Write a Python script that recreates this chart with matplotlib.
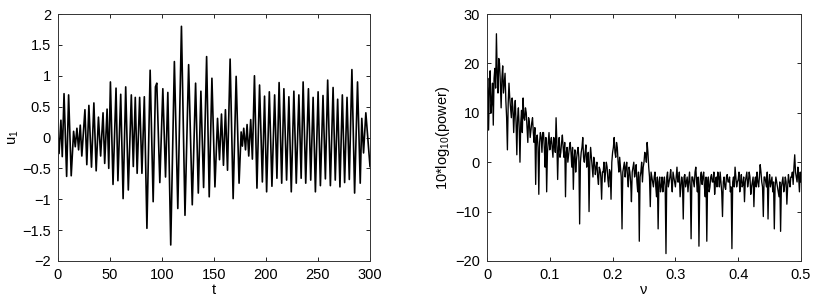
import numpy as np
import matplotlib
matplotlib.use("Agg")
import matplotlib.pyplot as plt

plt.rcParams['font.family'] = ['Liberation Sans', 'DejaVu Sans']
plt.rcParams['mathtext.default'] = 'regular'

# Left panel: extrema of u_1(t)
t_ext = [0.0, 1.0, 2.8, 4.1, 5.8, 8.3, 10.2, 12.7, 15.0, 16.6, 18.2, 19.8, 21.4, 22.9,
         25.9, 27.7, 29.7, 32.2, 34.5, 36.7, 38.9, 41.0, 43.3, 44.9, 47.2, 48.8, 50.4,
         52.9, 55.8, 57.6, 60.3, 62.6, 65.1, 67.6, 70.5, 72.4, 74.3, 76.1, 78.5, 80.7,
         83.0, 85.5, 88.6, 91.5, 93.7, 95.0, 97.9, 100.8, 103.4, 105.6, 108.4, 111.9,
         115.2, 118.7, 122.1, 125.6, 129.1, 132.3, 134.9, 137.4, 140.0, 142.9, 145.4,
         148.0, 150.9, 153.4, 155.3, 157.2, 159.1, 161.0, 163.0, 165.5, 168.4, 171.3,
         174.1, 176.1, 177.3, 178.6, 180.3, 181.8, 183.4, 185.3, 186.9, 188.9, 191.3,
         193.8, 196.5, 198.6, 200.6, 203.2, 205.7, 208.3, 210.5, 212.6, 215.1, 217.2,
         219.8, 222.0, 224.3, 226.8, 229.1, 231.6, 233.8, 235.7, 238.2, 240.8, 243.0,
         245.3, 247.5, 250.1, 252.3, 254.8, 257.1, 259.3, 261.9, 264.5, 266.6, 268.9,
         271.1, 273.4, 275.6, 277.9, 280.1, 282.6, 285.2, 288.0, 290.6, 292.1, 293.8,
         296.0, 300.0]
u_ext = [0.0, -0.26, 0.28, -0.31, 0.71, -0.63, 0.69, -0.62, 0.10, -0.15, 0.15, -0.20, 0.20, -0.30,
         0.45, -0.44, 0.52, -0.48, 0.56, -0.54, 0.33, -0.30, 0.40, -0.42, 0.46, -0.50, 0.90,
         -0.76, 0.80, -0.70, 0.70, -0.99, 0.82, -0.85, 0.69, -0.47, 0.65, -0.58, 0.65, -0.58,
         0.66, -1.47, 1.09, -1.04, 0.82, 0.88, -0.73, 0.79, -0.64, 0.73, -1.74, 1.23,
         -1.15, 1.80, -1.26, 1.18, -1.09, 0.88, -0.90, 0.75, -0.81, 1.31, -0.96,
         0.96, -0.80, 0.31, -0.36, 0.38, -0.45, 0.45, -0.53, 1.27, -0.99, 0.99,
         -0.74, 0.09, -0.14, 0.15, -0.20, 0.21, -0.30, 0.29, -0.35, 1.00, -0.82,
         0.85, -0.72, 0.67, -0.88, 0.74, -0.79, 0.69, -0.66, 0.89, -0.74, 0.79,
         -0.69, 0.66, -0.88, 0.75, -0.74, 0.69, -0.66, 0.90, -0.74, 0.79, -0.69,
         0.65, -0.88, 0.74, -0.78, 0.68, -0.67, 0.93, -0.78, 0.81, -0.69, 0.62,
         -0.80, 0.69, -0.73, 0.65, -0.68, 1.10, -0.90, 0.90, -0.74, 0.31, -0.25,
         0.40, -0.47]

# Right panel: 10*log10(power), nu from 0 to 0.5
power_db = [
    14, 17, 6.5, 15, 18.5, 10, 12, 16, 7.5, 17, 19, 15, 26, 18, 14, 21, 20, 16, 11, 17,
    19.5, 14, 16, 18, 12.5, 9, 2.5, 12, 16, 13, 11, 9, 13, 11, 6, 10, 12.5, 8, 1.5, 9,
    11, 7, 0, 8, 10.5, 6, 13, 9, 8.5, 11, 10, 7, 4, 9, 8, 5, 6.5, 8, 9, 6,
    4, 7, -4.5, 5, 5.5, 3, -6.5, 4, 6, 5, 2, 6, 6, 3, -1, 5, -6, 2, 4, 6,
    2.5, 4, 5, 3, 1, 5, 4, 2, 9, 4, -3.5, 3, 5, 1, 2, 4, 5.5, 3, 1, 4,
    -7, 2, 3, 0, 1.5, 3, 4, 2, -1, 3, -5.5, 1, 2.5, -2, 0.5, 2, 3, 1, -12.5, 0,
    2, 3, 5, 1, 0, 2, 3.5, -1, 1, 2, -10, 0, 3, 1, -1, -3, 1, 0, -2.5, -1,
    0, -3, -4.5, -1, -1.5, -3, -7.5, -2, -2, 0, -4, -2, 0, -1, -3.5, -5, -1.5, -2, -7.5, 0,
    2, 3, 5, 2, 1, 4, 3, 0, -2, 1, -1, -3, -13.5, -2, -1, 0, -3, -1, 0, -3,
    -5, -1, -2, -4, -8, -2, -1, 0, -3, -2, -0.5, -4, -6, -2, -16, -3, -2, 0, -4, -1,
    0, 2, 1.5, 0, 4, 2, -1, -3, -9, -2, -3, -4, -5, -3, -2, -5, -7, -3, -13.5, -4,
    -3, -6, -5, -3, -6, -4, -3, -5, -18.5, -3, -2, -5, -4, -3, -1.5, -4, -6, -2, -3, -4,
    -5, -3, -1, -4, -4, -2, -7, -5, -3, -4, -11.5, -3, -2.5, -5, -4, -3, -6, -4, -2, -5,
    -15.5, -3, -3, -4, -5, -2, -1, -4, -6, -3, -17, -5, -3, -2, -4.5, -3, -2, -5, -7, -3,
    -16, -4, -3, -6, -5, -3, -2.5, -4, -4, -2, -6.5, -4, -3, -5, -2, -3, -5, -2, -4, -6,
    -11, -4, -3, -5, -5.5, -3, -2.5, -4, -4, -3, -6, -5, -17.5, -4, -3, -5, -1, -3, -5, -4,
    -3.5, -2, -6, -4, -2.5, -5, -4.5, -3, -8, -4, -3, -2, -5, -4, -2, -3, -6.5, -5, -4, -3,
    -9, -4, -3, -5, -2, -4, -5, -3, -0.5, -2, -4, -5, -11, -3, -3, -4, -5, -2, -11.5, -4,
    -2.5, -5, -4, -3, -6, -4, -13.5, -5, -3, -4, -5, -6, -7, -4, -14, -5, -4, -3, -6, -5,
    -3, -4, -8.5, -5, -2.5, -4, -5, -3, -3, -2, -4.5, -1, 1.5, -2, -3, -4, -1, -3, -6, -2,
    -4]

left_xticks = [0, 50, 100, 150, 200, 250, 300]
left_yticks = [-2, -1.5, -1, -0.5, 0, 0.5, 1, 1.5, 2]
right_xticks = [0, 0.1, 0.2, 0.3, 0.4, 0.5]
right_yticks = [-20, -10, 0, 10, 20, 30]

W, H = 817, 303
fig = plt.figure(figsize=(W / 100, H / 100), dpi=100)
ax1 = fig.add_axes([58 / W, 1 - 261 / H, (370 - 58) / W, 247 / H])
ax2 = fig.add_axes([487 / W, 1 - 261 / H, (801 - 487) / W, 247 / H])

ax1.plot(t_ext, u_ext, color='black', lw=1.2)
ax1.set_xlim(0, 300)
ax1.set_ylim(-2, 2)
ax1.set_xticks(left_xticks)
ax1.set_yticks(left_yticks)
ax1.set_yticklabels(['\u22122', '\u22121.5', '\u22121', '\u22120.5', '0', '0.5', '1', '1.5', '2'])
ax1.set_xlabel('t', fontsize=10.5, labelpad=1)
ax1.set_ylabel('u$_1$', fontsize=10.5, labelpad=1)

nu = np.linspace(0, 0.5, len(power_db))
ax2.plot(nu, power_db, color='black', lw=0.95)
ax2.set_xlim(0, 0.5)
ax2.set_ylim(-20, 30)
ax2.set_xticks(right_xticks)
ax2.set_xticklabels(['0', '0.1', '0.2', '0.3', '0.4', '0.5'])
ax2.set_yticks(right_yticks)
ax2.set_yticklabels(['\u221220', '\u221210', '0', '10', '20', '30'])
ax2.set_xlabel('\u03bd', fontsize=10.5, labelpad=1)
ax2.set_ylabel('10*log$_{10}$(power)', fontsize=10.5, labelpad=2)

for ax in (ax1, ax2):
    ax.tick_params(direction='in', top=True, right=True, length=3, width=0.6,
                   labelsize=10.5, colors='black', pad=5)
    for s in ax.spines.values():
        s.set_linewidth(0.7)
        s.set_color('#333333')

fig.savefig('out.png', dpi=100)
